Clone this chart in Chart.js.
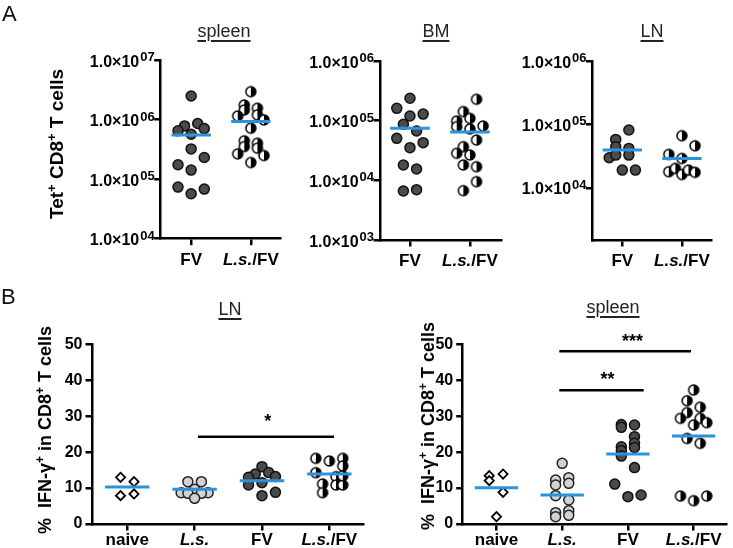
<!DOCTYPE html>
<html><head><meta charset="utf-8">
<script src="https://cdn.jsdelivr.net/npm/chart.js@4/dist/chart.umd.min.js"></script>
<style>
html,body{margin:0;padding:0;background:#fff;}
#wrap{position:relative;width:733px;height:548px;overflow:hidden;font-family:"Liberation Sans",Arial,sans-serif;}
canvas{position:absolute;left:0;top:0;}
.t{position:absolute;font-size:18px;line-height:18px;white-space:nowrap;transform:translateX(-50%);color:#222;text-decoration:underline;text-underline-offset:3px;text-decoration-thickness:1.5px;}
.p{position:absolute;font-size:22px;line-height:22px;color:#111;}
.yt{position:absolute;font-weight:bold;font-size:18px;line-height:20px;white-space:nowrap;color:#000;transform:translate(-50%,-50%) rotate(-90deg);}
.yt sup{font-size:12px;line-height:0;vertical-align:7px;}
.yt.a{font-size:19px;}
.yt.a sup{font-size:13px;}
</style></head>
<body>
<div id="wrap">
<canvas id="c1" width="733" height="548"></canvas>
<canvas id="c2" width="733" height="548"></canvas>
<canvas id="c3" width="733" height="548"></canvas>
<canvas id="c4" width="733" height="548"></canvas>
<canvas id="c5" width="733" height="548"></canvas>
<div class="p" style="left:2px;top:3px;">A</div>
<div class="p" style="left:1px;top:286px;">B</div>
<div class="t" style="left:224px;top:22px;">spleen</div>
<div class="t" style="left:436px;top:22px;">BM</div>
<div class="t" style="left:652px;top:22px;">LN</div>
<div class="t" style="left:230px;top:300px;">LN</div>
<div class="t" style="left:613px;top:298px;">spleen</div>
<div class="yt a" style="left:57px;top:144px;">Tet<sup>+</sup> CD8<sup>+</sup> T cells</div>
<div class="yt" style="left:45px;top:430px;">%&nbsp; IFN-γ<sup>+</sup> in CD8<sup>+</sup> T cells</div>
<div class="yt" style="left:428px;top:426px;">%&nbsp; IFN-γ<sup>+</sup> in CD8<sup>+</sup> T cells</div>
</div>
<script>
// ---------------- DATA ----------------
const catsA = ['FV', 'L.s./FV'];
const catsB = ['naive', 'L.s.', 'FV', 'L.s./FV'];
const ticksSpleenA = [1e4, 1e5, 1e6, 1e7];
const ticksBMA = [1e3, 1e4, 1e5, 1e6];
const ticksLNA = [1e4, 1e5, 1e6];
const ticksB = [0, 10, 20, 30, 40, 50];

// A spleen
const spleenA_FV = [2.49e6, 8.57e5, 7.83e5, 7.06e5, 6.46e5, 5.68e5, 3.22e5, 2.31e5, 1.74e5, 1.42e5, 7.35e4, 6.8e4, 5.68e4];
const spleenA_FV_dx = [0, 0.11, -0.11, 0.22, -0.22, 0, 0, 0.22, -0.22, 0, -0.22, 0.22, 0];
const spleenA_LsFV = [2.94e6, 1.76e6, 1.45e6, 1.55e6, 1.2e6, 1.15e6, 9.87e5, 7.16e5, 4.39e5, 3.52e5, 4.01e5, 3.31e5, 2.66e5, 2.49e5, 1.9e5];
const spleenA_LsFV_dx = [0, -0.11, -0.11, 0.11, 0.11, -0.22, 0.22, 0, -0.11, -0.11, 0.11, 0.11, -0.22, 0.22, 0];
const spleenA_med = [5.5e5, 9.25e5];

// A BM
const bmA_FV = [2.37e5, 1.61e5, 1.29e5, 1.2e5, 8.68e4, 6.71e4, 5.06e4, 4.28e4, 3.53e4, 1.81e4, 1.55e4, 6.63e3, 6.98e3];
const bmA_FV_dx = [0, -0.22, 0.22, 0, -0.11, 0.11, -0.22, 0.22, 0, -0.11, 0.11, -0.11, 0.11];
const bmA_LsFV = [2.28e5, 1.42e5, 1.09e5, 9.87e4, 7.93e4, 7.25e4, 8.15e4, 4.74e4, 3.67e4, 2.84e4, 2.66e4, 1.81e4, 1.69e4, 9.5e3, 6.71e3];
const bmA_LsFV_dx = [0.11, -0.11, 0, -0.22, -0.22, 0, 0.22, 0.11, -0.11, -0.22, 0, -0.11, 0.11, 0.11, -0.11];
const bmA_med = [7.44e4, 6.46e4];

// A LN
const lnA_FV = [8.14e4, 5.8e4, 4.44e4, 4.18e4, 2.98e4, 3.28e4, 3.28e4, 1.9e4, 1.9e4];
const lnA_FV_dx = [0.11, -0.11, -0.11, 0.11, -0.22, -0.11, 0.11, 0, 0.22];
const lnA_LsFV = [6.62e4, 4.6e4, 3.36e4, 2.9e4, 1.79e4, 2.02e4, 1.62e4, 1.9e4, 1.75e4];
const lnA_LsFV_dx = [0, 0.22, -0.22, 0, -0.22, -0.11, 0, 0.11, 0.22];
const lnA_med = [3.93e4, 2.9e4];

// B LN
const lnB_naive = [12.99, 11.78, 7.89, 8.35];
const lnB_naive_dx = [-0.1, 0.1, -0.1, 0.1];
const lnB_Ls = [11.78, 11.78, 8.72, 9.65, 8.72, 8.53, 8.53, 7.14];
const lnB_Ls_dx = [-0.1, 0.1, -0.2, 0, 0.2, -0.1, 0.1, 0];
const lnB_FV = [15.96, 13.9, 14.3, 13.0, 13.2, 11.5, 10.85, 8.81, 7.88];
const lnB_FV_dx = [0, -0.1, 0.1, -0.2, 0.2, 0, -0.2, 0.2, 0];
const lnB_LsFV = [18.27, 17.53, 18.27, 16.14, 14.29, 13.17, 11.13, 10.85, 8.72, 10.85, 13.4];
const lnB_LsFV_dx = [-0.2, 0, 0.2, 0.2, -0.2, 0.1, -0.1, 0.1, -0.1, 0.2, 0.2];
const lnB_med = [10.3, 9.65, 12.06, 13.9];
const lnB_sig = [{ from: 1.05, to: 3.07, y: 24.3, label: '*', lx: 2.085, ly: 27.0 }];

// B spleen
const spB_naive = [13.45, 12.06, 13.9, 8.81, 2.04];
const spB_naive_dx = [-0.11, -0.11, 0.1, 0.1, 0];
const spB_Ls = [16.88, 12.24, 10.85, 12.89, 11.32, 7.88, 6.68, 3.15, 2.04, 3.71, 2.41];
const spB_Ls_dx = [0, -0.1, -0.1, 0.1, 0.1, -0.1, 0.1, -0.1, -0.1, 0.1, 0.1];
const spB_FV = [27.7, 26.9, 27.55, 24.3, 22.45, 21.5, 21.3, 20.4, 18.9, 15.7, 11.1, 7.6, 8.07];
const spB_FV_dx = [-0.1, -0.1, 0.1, 0.1, 0.1, -0.1, 0.1, -0.1, -0.1, 0.1, -0.2, 0, 0.2];
const spB_LsFV = [37.3, 34.3, 32.5, 31.0, 29.4, 29.4, 28.2, 27.55, 23.8, 22.45, 7.79, 6.49, 7.79];
const spB_LsFV_dx = [0, -0.1, 0.1, -0.1, -0.2, 0.1, 0.2, 0, -0.1, 0.1, -0.2, 0, 0.2];
const spB_med = [10.1, 8.07, 19.5, 24.5];
const spB_sig = [
  { from: 0.956, to: 2.24, y: 37.2, label: '**', lx: 1.69, ly: 38.7 },
  { from: 0.956, to: 2.96, y: 48.1, label: '***', lx: 2.07, ly: 49.2 }
];

// ---------------- STYLE ----------------
const FONT = '"Liberation Sans", Arial, sans-serif';
const BLUE = '#2a93dc';
const HALF_R = 5, PT_BW = 1.5;

function halfCircle() {
  const r = HALF_R, bw = PT_BW;
  const s = Math.ceil(2 * r + bw + 2);
  const c = document.createElement('canvas');
  c.width = c.height = s;
  const x = c.getContext('2d');
  const cx = s / 2;
  x.beginPath(); x.arc(cx, cx, r, 0, 2 * Math.PI); x.fillStyle = '#fff'; x.fill();
  x.beginPath(); x.moveTo(cx, cx); x.arc(cx, cx, r, -Math.PI / 2, Math.PI / 2); x.closePath(); x.fillStyle = '#000'; x.fill();
  x.beginPath(); x.arc(cx, cx, r, 0, 2 * Math.PI); x.lineWidth = bw; x.strokeStyle = '#000'; x.stroke();
  return c;
}
const HALF = halfCircle();
const STYLES = {
  naive: { pointStyle: 'rectRot', pointRadius: 4.6, backgroundColor: '#fff', borderColor: '#000', borderWidth: 1.8 },
  ls: { pointStyle: 'circle', pointRadius: 5, backgroundColor: '#d2d2d2', borderColor: '#222', borderWidth: 1.5 },
  fv: { pointStyle: 'circle', pointRadius: 5, backgroundColor: '#4b4b4b', borderColor: '#111', borderWidth: 1.5 },
  lsfv: { pointStyle: HALF, pointRadius: 5, backgroundColor: '#000', borderColor: '#000', borderWidth: 1.5 }
};

function pts(ci, vals, dx) { return vals.map((v, i) => ({ x: ci + dx[i], y: v })); }

function drawSegs(ctx, segs, x, y, align) {
  let total = 0;
  segs.forEach(s => { ctx.font = s.font; s.w = ctx.measureText(s.t).width + (s.gap || 0); total += s.w; });
  let cx = align === 'center' ? x - total / 2 : align === 'right' ? x - total : x;
  ctx.textAlign = 'left'; ctx.textBaseline = 'alphabetic';
  segs.forEach(s => { ctx.font = s.font; ctx.fillText(s.t, cx + (s.gap || 0), y + (s.dy || 0)); cx += s.w; });
}
function labelSegs(lbl) {
  return lbl.split(/(L\.s\.)/).filter(Boolean).map(t => ({ t, font: (t === 'L.s.' ? 'italic ' : '') + 'bold 17px ' + FONT }));
}

const richPlugin = {
  id: 'rich',
  afterDraw(chart, args, o) {
    const ctx = chart.ctx, xs = chart.scales.x, ys = chart.scales.y;
    ctx.save(); ctx.fillStyle = '#000';
    o.cats.forEach((c, i) => drawSegs(ctx, labelSegs(c), xs.getPixelForValue(i), xs.top + o.xGap, 'center'));
    if (o.log) {
      o.yTicks.forEach(v => {
        const e = String(Math.round(Math.log10(v))).padStart(2, '0');
        drawSegs(ctx, [
          { t: '1.0×10', font: 'bold 16px ' + FONT },
          { t: e, font: 'bold 13px ' + FONT, dy: -5.5, gap: 1 }
        ], ys.right - 6, ys.getPixelForValue(v) + 6.5, 'right');
      });
    }
    (o.sig || []).forEach(s => {
      ctx.font = 'bold 18px ' + FONT; ctx.textAlign = 'center'; ctx.textBaseline = 'alphabetic';
      ctx.fillText(s.label, xs.getPixelForValue(s.lx), ys.getPixelForValue(s.ly));
    });
    ctx.restore();
  }
};

function axisCommon() {
  return {
    grid: { display: true, drawOnChartArea: false, drawTicks: true, tickLength: 6.5, color: '#000', tickColor: '#000', lineWidth: 2.5, tickWidth: 2.5 },
    border: { display: true, color: '#000', width: 2.5 }
  };
}

function build(id, p) {
  const datasets = [];
  p.groups.forEach((g, ci) => {
    datasets.push(Object.assign({ data: pts(ci, g.vals, g.dx), order: 2, clip: false }, STYLES[g.style]));
  });
  p.med.forEach((m, ci) => {
    datasets.push({ data: [{ x: ci - 0.33, y: m }, { x: ci + 0.33, y: m }], showLine: true, borderColor: BLUE, borderWidth: 3, pointRadius: 0, order: 0, clip: false });
  });
  (p.sig || []).forEach(s => {
    datasets.push({ data: [{ x: s.from, y: s.y }, { x: s.to, y: s.y }], showLine: true, borderColor: '#000', borderWidth: 2.5, pointRadius: 0, order: 0, clip: false });
  });
  const yOpt = Object.assign(axisCommon(), {
    type: p.log ? 'logarithmic' : 'linear', min: p.yMin, max: p.yMax, bounds: 'data',
    afterBuildTicks: s => { s.ticks = p.yTicks.map(v => ({ value: v })); },
    afterFit: s => { s.width = p.yW; },
    ticks: p.log ? { display: false } : { display: true, autoSkip: false, color: '#000', padding: 3, font: { family: FONT, size: 16, weight: 'bold' } }
  });
  const xOpt = Object.assign(axisCommon(), {
    type: 'linear', min: p.xMin, max: p.xMax, bounds: 'data',
    afterBuildTicks: s => { s.ticks = p.cats.map((c, i) => ({ value: i })); },
    afterFit: s => { s.height = 10; },
    ticks: { display: false }
  });
  new Chart(document.getElementById(id), {
    type: 'scatter',
    data: { datasets },
    options: {
      responsive: false, animation: false, devicePixelRatio: 1,
      layout: { padding: p.pad },
      plugins: { legend: { display: false }, tooltip: { enabled: false }, rich: { cats: p.cats, log: p.log, yTicks: p.yTicks, xGap: p.xGap, sig: p.sig } },
      scales: { x: xOpt, y: yOpt }
    },
    plugins: [richPlugin]
  });
}

build('c1', {
  cats: catsA, log: true, yMin: 1e4, yMax: 1e7, yTicks: ticksSpleenA, xMin: -0.51, xMax: 1.5, xGap: 26, yW: 10,
  pad: { left: 150.7, top: 60, right: 452.3, bottom: 299.3 },
  groups: [{ vals: spleenA_FV, dx: spleenA_FV_dx, style: 'fv' }, { vals: spleenA_LsFV, dx: spleenA_LsFV_dx, style: 'lsfv' }],
  med: spleenA_med
});
build('c2', {
  cats: catsA, log: true, yMin: 1e3, yMax: 1e6, yTicks: ticksBMA, xMin: -0.5, xMax: 1.53, xGap: 26, yW: 10,
  pad: { left: 370, top: 61, right: 231.3, bottom: 298 },
  groups: [{ vals: bmA_FV, dx: bmA_FV_dx, style: 'fv' }, { vals: bmA_LsFV, dx: bmA_LsFV_dx, style: 'lsfv' }],
  med: bmA_med
});
build('c3', {
  cats: catsA, log: true, yMin: 1500, yMax: 1e6, yTicks: ticksLNA, xMin: -0.5, xMax: 1.5, xGap: 26, yW: 10,
  pad: { left: 582.5, top: 61, right: 21.3, bottom: 298 },
  groups: [{ vals: lnA_FV, dx: lnA_FV_dx, style: 'fv' }, { vals: lnA_LsFV, dx: lnA_LsFV_dx, style: 'lsfv' }],
  med: lnA_med
});
build('c4', {
  cats: catsB, log: false, yMin: 0, yMax: 50, yTicks: ticksB, xMin: -0.524, xMax: 3.5, xGap: 21, yW: 50,
  pad: { left: 42, top: 344.3, right: 370, bottom: 14 },
  groups: [{ vals: lnB_naive, dx: lnB_naive_dx, style: 'naive' }, { vals: lnB_Ls, dx: lnB_Ls_dx, style: 'ls' }, { vals: lnB_FV, dx: lnB_FV_dx, style: 'fv' }, { vals: lnB_LsFV, dx: lnB_LsFV_dx, style: 'lsfv' }],
  med: lnB_med, sig: lnB_sig
});
build('c5', {
  cats: catsB, log: false, yMin: 0, yMax: 50, yTicks: ticksB, xMin: -0.514, xMax: 3.5, xGap: 21, yW: 50,
  pad: { left: 412.7, top: 344.3, right: 0, bottom: 14 },
  groups: [{ vals: spB_naive, dx: spB_naive_dx, style: 'naive' }, { vals: spB_Ls, dx: spB_Ls_dx, style: 'ls' }, { vals: spB_FV, dx: spB_FV_dx, style: 'fv' }, { vals: spB_LsFV, dx: spB_LsFV_dx, style: 'lsfv' }],
  med: spB_med, sig: spB_sig
});
</script>
</body></html>
